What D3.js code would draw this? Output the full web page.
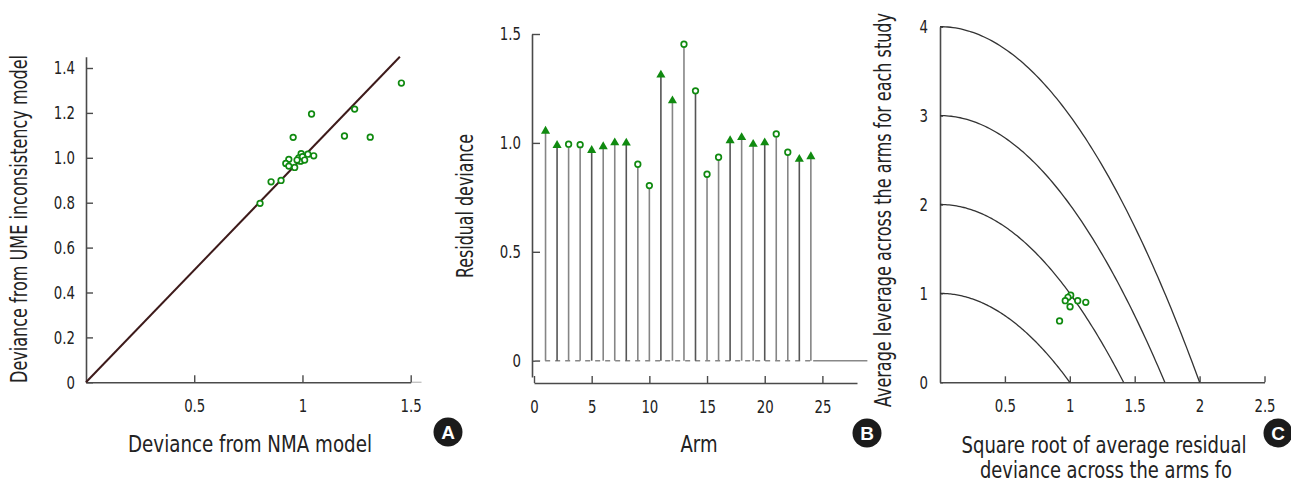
<!DOCTYPE html>
<html>
<head>
<meta charset="utf-8">
<script src="https://cdn.jsdelivr.net/npm/d3@7"></script>
<style>
  html, body { margin: 0; padding: 0; background: #fff; }
  svg { display: block; }
  text { font-family: "DejaVu Sans Condensed", "Liberation Sans Narrow", "Roboto", sans-serif; fill: #222; }
</style>
</head>
<body>
<svg id="chart" width="1291" height="482"></svg>
<script>
// ---------- DATA ----------
// Panel A: per-arm deviance, NMA model (x) vs UME inconsistency model (y)
const devNMA = [1.457, 1.241, 1.042, 1.194, 1.313, 0.957, 1.052, 1.025, 0.994, 0.983, 1.003, 0.994,
                0.983, 0.937, 0.923, 0.937, 0.964, 0.855, 0.901, 0.804, 0.990, 1.000, 0.975, 1.010];
const devUME = [1.333, 1.217, 1.195, 1.097, 1.092, 1.091, 1.009, 1.016, 1.018, 1.000, 0.994, 0.987,
                0.990, 0.993, 0.975, 0.963, 0.957, 0.893, 0.899, 0.797, 0.985, 1.005, 0.990, 0.990];
const ticksA_x = [0.5, 1, 1.5];
const labelsA_x = ["0.5", "1", "1.5"];
const ticksA_y = [0, 0.2, 0.4, 0.6, 0.8, 1.0, 1.2, 1.4];
const labelsA_y = ["0", "0.2", "0.4", "0.6", "0.8", "1.0", "1.2", "1.4"];

// Panel B: residual deviance per arm; marker shape ("tri" / "circ")
const arms = d3.range(1, 25);
const residDev = [1.054, 0.989, 0.994, 0.992, 0.966, 0.983, 1.001, 1.000, 0.902, 0.804, 1.312, 1.194,
                  1.453, 1.239, 0.856, 0.934, 1.011, 1.025, 0.994, 1.001, 1.041, 0.957, 0.925, 0.937];
const armShape = ["tri","tri","circ","circ","tri","tri","tri","tri","circ","circ","tri","tri",
                  "circ","circ","circ","circ","tri","tri","tri","tri","circ","circ","tri","tri"];
const ticksB_x = [0, 5, 10, 15, 20, 25];
const labelsB_x = ["0", "5", "10", "15", "20", "25"];
const ticksB_y = [0, 0.5, 1.0, 1.5];
const labelsB_y = ["0", "0.5", "1.0", "1.5"];

// Panel C: per-study sqrt(avg residual deviance) vs avg leverage
const sqrtResid = [1.007, 0.986, 0.965, 1.061, 1.123, 1.002, 0.921];
const avgLeverage = [0.979, 0.956, 0.918, 0.918, 0.900, 0.850, 0.690];
const contourLevels = [1, 2, 3, 4];
const ticksC_x = [0.5, 1, 1.5, 2, 2.5];
const labelsC_x = ["0.5", "1", "1.5", "2", "2.5"];
const ticksC_y = [0, 1, 2, 3, 4];
const labelsC_y = ["0", "1", "2", "3", "4"];

// ---------- DRAW ----------
const svg = d3.select("#chart");
const AXIS = "#4a4a4a";
const GREEN = "#108a10";
const TICKFS = 18.5;
const LABFS = 23;

function condense(sel, factor) {
  sel.each(function () {
    const w = this.getComputedTextLength();
    d3.select(this).attr("textLength", w * factor).attr("lengthAdjust", "spacingAndGlyphs");
  });
}
function styleAxis(g) {
  g.select(".domain").attr("stroke", AXIS).attr("stroke-width", 1.6);
  g.selectAll(".tick line").attr("stroke", AXIS).attr("stroke-width", 1.4);
  g.selectAll(".tick text").attr("font-size", TICKFS).attr("fill", "#2a2a2a")
    .style("font-family", '"DejaVu Sans Condensed", "Liberation Sans Narrow", sans-serif');
  condense(g.selectAll(".tick text"), 0.8);
}
const fmtFrom = (ticks, labels) => d => labels[ticks.indexOf(d)];

function label(x, y, rot, str, len) {
  const t = svg.append("text")
    .attr("transform", `translate(${x},${y})` + (rot ? " rotate(-90)" : ""))
    .attr("text-anchor", "middle").attr("font-size", LABFS).attr("fill", "#222")
    .text(str);
  t.attr("textLength", len).attr("lengthAdjust", "spacingAndGlyphs");
  return t;
}

function badge(cx, cy, letter) {
  svg.append("circle").attr("cx", cx).attr("cy", cy).attr("r", 14.5).attr("fill", "#1b1b1b");
  svg.append("text").attr("x", cx).attr("y", cy).attr("dy", "0.36em").attr("text-anchor", "middle")
    .attr("font-size", 19).attr("font-weight", "bold").style("font-family", '"Liberation Sans", Arial, sans-serif')
    .style("fill", "#fff").text(letter);
}

// ===== Panel A =====
{
  const x = d3.scaleLinear().domain([0, 1.5]).range([86, 410.7]);
  const y = d3.scaleLinear().domain([0, 1.45]).range([382.3, 382.3 - 1.45 * 224.5]);
  svg.append("line").attr("x1", x(1.5)).attr("x2", x(1.55)).attr("y1", y(0)).attr("y2", y(0))
    .attr("stroke", "#c4c4c4").attr("stroke-width", 1.4);
  svg.append("g").attr("transform", `translate(0,${y(0)})`)
    .call(d3.axisBottom(x).tickValues(ticksA_x).tickFormat(fmtFrom(ticksA_x, labelsA_x))
      .tickSizeInner(-7).tickSizeOuter(0).tickPadding(17))
    .call(styleAxis);
  svg.append("g").attr("transform", `translate(${x(0)},0)`)
    .call(d3.axisLeft(y).tickValues(ticksA_y).tickFormat(fmtFrom(ticksA_y, labelsA_y))
      .tickSizeInner(-7).tickSizeOuter(0).tickPadding(11))
    .call(styleAxis);
  svg.append("line").attr("x1", x(0)).attr("y1", y(0)).attr("x2", x(1.45)).attr("y2", y(1.45))
    .attr("stroke", "#3d1a1a").attr("stroke-width", 2);
  svg.append("g").selectAll("circle").data(devNMA).join("circle")
    .attr("cx", d => x(d)).attr("cy", (d, i) => y(devUME[i])).attr("r", 2.8)
    .attr("fill", "#fff").attr("stroke", GREEN).attr("stroke-width", 1.7);
  label(250, 452, false, "Deviance from NMA model", 244);
  label(27, 219, true, "Deviance from UME inconsistency model", 328);
  badge(448, 432, "A");
}

// ===== Panel B =====
{
  const x = d3.scaleLinear().domain([0, 28]).range([534, 857]);
  const y = d3.scaleLinear().domain([-0.075, 1.5]).range([360.7 + 0.075 * 217.8, 360.7 - 1.5 * 217.8]);
  svg.append("g").attr("transform", `translate(0,383)`)
    .call(d3.axisBottom(x).tickValues(ticksB_x).tickFormat(fmtFrom(ticksB_x, labelsB_x))
      .tickSizeInner(-7).tickSizeOuter(0).tickPadding(17))
    .call(styleAxis);
  svg.append("g").attr("transform", `translate(${x(0) - 2},0)`)
    .call(d3.axisLeft(y).tickValues(ticksB_y).tickFormat(fmtFrom(ticksB_y, labelsB_y))
      .tickSizeInner(-8).tickSizeOuter(0).tickPadding(11))
    .call(styleAxis);
  // zero reference line: dashed across arms, solid beyond
  svg.append("line").attr("x1", x(0.1)).attr("x2", x(24.2)).attr("y1", y(0)).attr("y2", y(0))
    .attr("stroke", "#888").attr("stroke-width", 1.5).attr("stroke-dasharray", "5,5");
  svg.append("line").attr("x1", x(24.2)).attr("x2", x(28.9)).attr("y1", y(0)).attr("y2", y(0))
    .attr("stroke", "#888").attr("stroke-width", 1.5);
  svg.append("g").selectAll("line").data(arms).join("line")
    .attr("x1", d => x(d)).attr("x2", d => x(d))
    .attr("y1", y(0)).attr("y2", (d, i) => y(residDev[i]))
    .attr("stroke", (d, i) => i % 3 === 1 ? "#555" : "#858585").attr("stroke-width", 1.6);
  const tri = d3.symbol().type(d3.symbolTriangle).size(36);
  svg.append("g").selectAll("path").data(arms.filter((d, i) => armShape[i] === "tri")).join("path")
    .attr("d", tri).attr("fill", GREEN)
    .attr("transform", d => `translate(${x(d)},${y(residDev[d - 1])})`);
  svg.append("g").selectAll("circle").data(arms.filter((d, i) => armShape[i] === "circ")).join("circle")
    .attr("cx", d => x(d)).attr("cy", d => y(residDev[d - 1])).attr("r", 2.8)
    .attr("fill", "#fff").attr("stroke", GREEN).attr("stroke-width", 1.7);
  label(699, 452, false, "Arm", 37);
  label(473, 206, true, "Residual deviance", 144);
  badge(867, 433, "B");
}

// ===== Panel C =====
{
  const x = d3.scaleLinear().domain([0, 2.5]).range([940, 1264.5]);
  const y = d3.scaleLinear().domain([0, 4]).range([382.3, 26.7]);
  svg.append("g").attr("transform", `translate(0,${y(0)})`)
    .call(d3.axisBottom(x).tickValues(ticksC_x).tickFormat(fmtFrom(ticksC_x, labelsC_x))
      .tickSizeInner(-6).tickSizeOuter(0).tickPadding(17))
    .call(styleAxis);
  svg.append("g").attr("transform", `translate(${x(0)},0)`)
    .call(d3.axisLeft(y).tickValues(ticksC_y).tickFormat(fmtFrom(ticksC_y, labelsC_y))
      .tickSizeInner(-3).tickSizeOuter(0).tickPadding(12))
    .call(styleAxis);
  const line = d3.line().x(d => x(d[0])).y(d => y(d[1]));
  contourLevels.forEach(c => {
    const xs = d3.range(0, 101).map(k => Math.sqrt(c) * k / 100);
    svg.append("path").attr("d", line(xs.map(v => [v, Math.max(0, c - v * v)])))
      .attr("fill", "none").attr("stroke", "#333").attr("stroke-width", 1.3);
  });
  svg.append("g").selectAll("circle").data(sqrtResid).join("circle")
    .attr("cx", d => x(d)).attr("cy", (d, i) => y(avgLeverage[i])).attr("r", 2.8)
    .attr("fill", "#fff").attr("stroke", GREEN).attr("stroke-width", 1.7);
  label(1104, 453, false, "Square root of average residual", 285);
  label(1106, 478, false, "deviance across the arms fo", 252);
  label(891, 210, true, "Average leverage across the arms for each study", 394);
  badge(1278, 433, "C");
}
</script>
</body>
</html>
